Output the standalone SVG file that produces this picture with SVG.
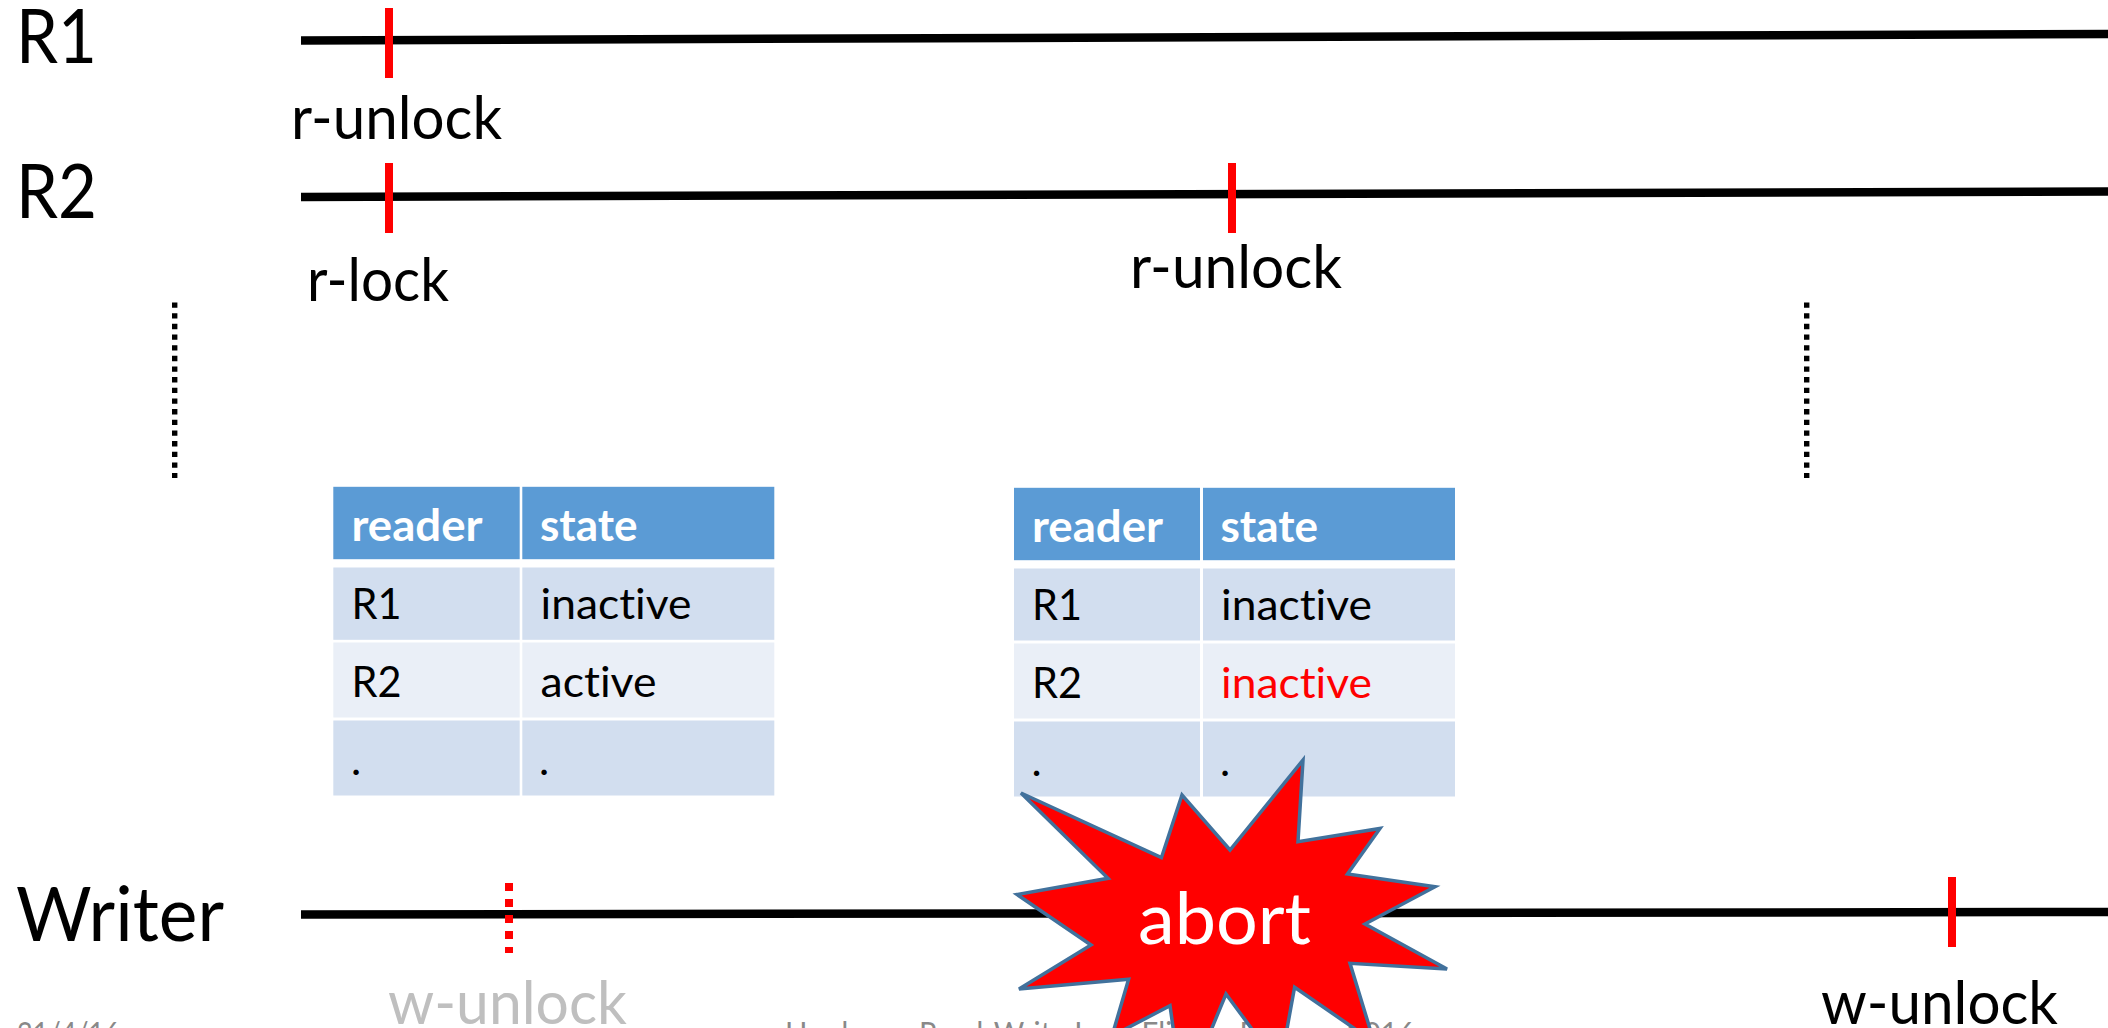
<svg xmlns="http://www.w3.org/2000/svg" width="2108" height="1028" viewBox="0 0 2108 1028">
<style>
text{font-family:Lato,"Open Sans","Liberation Sans",sans-serif;fill:#000;font-variant-ligatures:none}
.big{font-size:76px}
.lab{font-size:60px}
.cell{font-size:43px}
.hd{font-size:43px;font-weight:700;fill:#fff}
.foot{font-size:31px;fill:#898989}
.tl{stroke:#000;stroke-width:8.5;fill:none}
.tick{stroke:#f00;stroke-width:8;fill:none}
.dots{stroke:#000;stroke-width:5.4;stroke-dasharray:5.33 5.33;fill:none}
.h{fill:#5b9bd5}.a{fill:#d2deef}.b{fill:#eaeff7}
</style>
<rect width="2108" height="1028" fill="#fff"/>
<g id="footer">
<text class="foot" x="17" y="1044" textLength="103" lengthAdjust="spacingAndGlyphs">21/4/16</text>
<text class="foot" x="785" y="1044" textLength="630" lengthAdjust="spacingAndGlyphs">Hardware Read-Write Lock Elision, Eurosys 2016</text>
</g>
<g id="connectors">
<path class="tl" d="M301 40.5L2108 34"/>
<path class="tl" d="M301 197L2108 191.5"/>
<path class="tl" d="M301 914.5L2108 912"/>
<path class="tick" d="M389 8V78"/>
<path class="tick" d="M389 163V233"/>
<path class="tick" d="M1232 163V233"/>
<path class="tick" d="M1952 877V947"/>
<path class="tick" d="M509 883V953" stroke-dasharray="8 8"/>
<path class="dots" d="M174.7 302.5V478"/>
<path class="dots" d="M1806.7 302.5V478"/>
</g>
<g id="label-r1"><text class="big" x="16" y="62.5" textLength="81" lengthAdjust="spacingAndGlyphs">R1</text></g>
<g id="label-r2"><text class="big" x="16" y="217.5" textLength="81" lengthAdjust="spacingAndGlyphs">R2</text></g>
<g id="label-writer"><text class="big" x="16" y="941" textLength="208" lengthAdjust="spacingAndGlyphs">Writer</text></g>
<g id="r1-unlock"><text class="lab" x="291" y="138.5" textLength="211" lengthAdjust="spacingAndGlyphs">r-unlock</text></g>
<g id="r2-lock"><text class="lab" x="307" y="300.5" textLength="142" lengthAdjust="spacingAndGlyphs">r-lock</text></g>
<g id="r2-unlock"><text class="lab" x="1130" y="288" textLength="212" lengthAdjust="spacingAndGlyphs">r-unlock</text></g>
<g id="w-unlock-faded"><text class="lab" x="388" y="1023.5" textLength="239" lengthAdjust="spacingAndGlyphs" style="fill:#bfbfbf">w-unlock</text></g>
<g id="w-unlock"><text class="lab" x="1821" y="1023.5" textLength="237" lengthAdjust="spacingAndGlyphs">w-unlock</text></g>
<g id="table-1">
<rect class="h" x="333.3" y="486.8" width="186.4" height="72.4"/><rect class="h" x="522.3" y="486.8" width="252" height="72.4"/>
<rect class="a" x="333.3" y="567.5" width="186.4" height="72.3"/><rect class="a" x="522.3" y="567.5" width="252" height="72.3"/>
<rect class="b" x="333.3" y="642.5" width="186.4" height="75"/><rect class="b" x="522.3" y="642.5" width="252" height="75"/>
<rect class="a" x="333.3" y="720.5" width="186.4" height="75"/><rect class="a" x="522.3" y="720.5" width="252" height="75"/>
<text class="hd" x="351.5" y="540.5" textLength="131" lengthAdjust="spacingAndGlyphs">reader</text>
<text class="hd" x="540" y="540.5" textLength="97.5" lengthAdjust="spacingAndGlyphs">state</text>
<text class="cell" x="351.5" y="618.5" textLength="50" lengthAdjust="spacingAndGlyphs">R1</text>
<text class="cell" x="540.5" y="618.5" textLength="151" lengthAdjust="spacingAndGlyphs">inactive</text>
<text class="cell" x="351.5" y="696.5" textLength="50" lengthAdjust="spacingAndGlyphs">R2</text>
<text class="cell" x="540.5" y="696.5" textLength="116" lengthAdjust="spacingAndGlyphs">active</text>
<text class="cell" x="351" y="775">.</text>
<text class="cell" x="539" y="775">.</text>
</g>
<g id="table-2">
<rect class="h" x="1014" y="487.8" width="186" height="72.4"/><rect class="h" x="1203" y="487.8" width="252" height="72.4"/>
<rect class="a" x="1014" y="568.5" width="186" height="72"/><rect class="a" x="1203" y="568.5" width="252" height="72"/>
<rect class="b" x="1014" y="643.5" width="186" height="75"/><rect class="b" x="1203" y="643.5" width="252" height="75"/>
<rect class="a" x="1014" y="721.5" width="186" height="75"/><rect class="a" x="1203" y="721.5" width="252" height="75"/>
<text class="hd" x="1032" y="541.5" textLength="131" lengthAdjust="spacingAndGlyphs">reader</text>
<text class="hd" x="1220.5" y="541.5" textLength="97.5" lengthAdjust="spacingAndGlyphs">state</text>
<text class="cell" x="1032" y="619.5" textLength="50" lengthAdjust="spacingAndGlyphs">R1</text>
<text class="cell" x="1221" y="619.5" textLength="151" lengthAdjust="spacingAndGlyphs">inactive</text>
<text class="cell" x="1032" y="697.5" textLength="50" lengthAdjust="spacingAndGlyphs">R2</text>
<text class="cell" x="1221" y="697.5" textLength="151" lengthAdjust="spacingAndGlyphs" style="fill:#f00">inactive</text>
<text class="cell" x="1031.5" y="776">.</text>
<text class="cell" x="1220" y="776">.</text>
</g>
<g id="abort">
<path d="M1021 793L1161.4 857.7L1182 795L1230 850L1303 760L1298 841.7L1380 828.5L1347.5 874L1435 886.7L1365 924L1447 969L1350 963.3L1374 1042L1294.6 987.3L1280 1067L1226 994L1183 1098L1170 1005.7L1112 1036L1128.6 979.3L1019 989L1091 945L1017 894.5L1108 878.3Z" fill="#f00" stroke="#41719c" stroke-width="3.5"/>
<text x="1138" y="944" style="font-size:72px;fill:#fff" textLength="173" lengthAdjust="spacingAndGlyphs">abort</text>
</g>
</svg>
